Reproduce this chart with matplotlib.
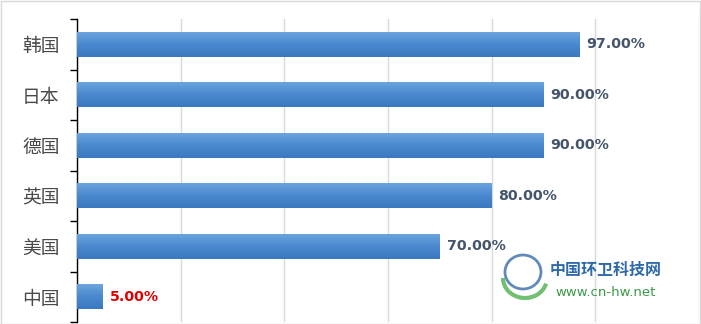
import matplotlib.pyplot as plt
import numpy as np
from matplotlib.patches import Rectangle, Ellipse, Arc

plt.rcParams['font.family'] = ['Noto Sans CJK SC', 'DejaVu Sans']

# 数据
countries = ['韩国', '日本', '德国', '英国', '美国', '中国']
rates = [0.97, 0.90, 0.90, 0.80, 0.70, 0.05]
labels = ['97.00%', '90.00%', '90.00%', '80.00%', '70.00%', '5.00%']
label_colors = ['#44546a'] * 5 + ['#e00000']

fig = plt.figure(figsize=(7.01, 3.24), dpi=100)
ax = fig.add_axes([77 / 701, 2 / 324, 622 / 701, 303 / 324])

y = np.arange(len(countries))
bars = ax.barh(y, rates, height=0.5, color='#5b9bd5', zorder=2)

# degradado en las barras
grad = np.linspace(0, 1, 64).reshape(-1, 1)
cmap = plt.matplotlib.colors.LinearSegmentedColormap.from_list(
    'azul', ['#6ea7e0', '#4a89cf', '#3b78bf'])
for b in bars:
    x0, y0 = b.get_x(), b.get_y()
    w, h = b.get_width(), b.get_height()
    im = ax.imshow(grad, extent=[x0, x0 + w, y0 + h, y0], cmap=cmap,
                   aspect='auto', zorder=3)
    im.set_clip_path(b)

ax.set_xlim(0, 1.2)
ax.set_ylim(len(countries) - 0.5, -0.5)
ax.set_aspect('auto')

for yi, r, lab, c in zip(y, rates, labels, label_colors):
    ax.text(r + 0.013, yi, lab, va='center', ha='left', fontsize=10.2,
            fontweight='bold', color=c, family='DejaVu Sans', zorder=4)

ax.set_xticks(np.arange(0, 1.21, 0.2))
ax.set_xticklabels([])
ax.tick_params(axis='x', length=0)
ax.grid(axis='x', color='#d9d9d9', linewidth=1, zorder=0)

ax.set_yticks(y)
ax.set_yticklabels(countries, fontsize=13.5, color='#4a4a4a')
ax.tick_params(axis='y', which='major', length=0, pad=12.5)
ax.set_yticks(np.arange(-0.5, len(countries), 1), minor=True)
ax.tick_params(axis='y', which='minor', length=5, width=1, color='black')

for s in ['top', 'right', 'bottom']:
    ax.spines[s].set_visible(False)
ax.spines['left'].set_color('black')
ax.spines['left'].set_linewidth(1)

# marco exterior
fig.patches.append(Rectangle((0.5 / 701, 0.5 / 324), 699.5 / 701, 322.5 / 324,
                             transform=fig.transFigure, fill=False,
                             edgecolor='#d9d9d9', linewidth=1))

# marca de agua
fig.patches.append(Ellipse((523 / 701, 1 - 272 / 324), 36 / 701, 34 / 324,
                           transform=fig.transFigure, fill=False,
                           edgecolor='#3a6ea5', linewidth=2, alpha=0.8))
fig.patches.append(Arc((525 / 701, 1 - 278 / 324), 44 / 701, 40 / 324,
                       theta1=180, theta2=330, transform=fig.transFigure,
                       edgecolor='#4caf50', linewidth=3, alpha=0.8))
fig.text(550 / 701, 1 - 270 / 324, '中国环卫科技网', fontsize=11.5,
         fontweight='bold', color='#2e6aa8', va='center', ha='left')
fig.text(555 / 701, 1 - 293 / 324, 'www.cn-hw.net', fontsize=9.5,
         color='#3a9a4a', va='center', ha='left', family='DejaVu Sans')

fig.savefig('out.png', dpi=100)
